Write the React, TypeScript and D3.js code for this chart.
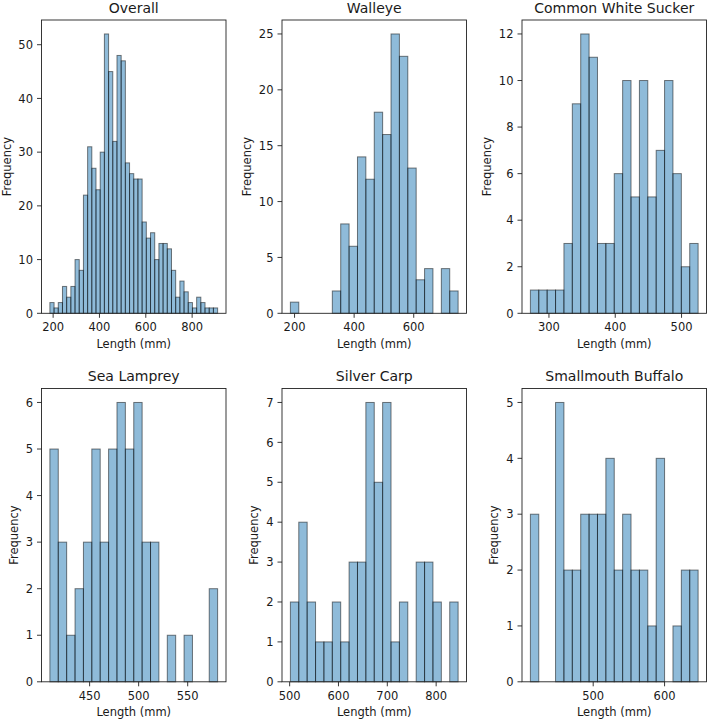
import React from "react";
import * as d3 from "d3";

const titles = ["Overall", "Walleye", "Common White Sucker", "Sea Lamprey", "Silver Carp", "Smallmouth Buffalo"];

const overallCounts = [2, 1, 2, 5, 3, 5, 10, 8, 22, 31, 27, 23, 30, 52, 45, 32, 48, 47, 28, 26, 25, 25, 17, 14, 15, 10, 13, 13, 12, 8, 3, 6, 4, 2, 1, 3, 2, 1, 1, 1];
const walleyeCounts = [1, 0, 0, 0, 0, 2, 8, 6, 14, 12, 18, 16, 25, 23, 13, 3, 4, 0, 4, 2];
const suckerCounts = [1, 1, 1, 1, 3, 9, 12, 11, 3, 3, 6, 10, 5, 10, 5, 7, 10, 6, 2, 3];
const lampreyCounts = [5, 3, 1, 2, 3, 5, 3, 5, 6, 5, 6, 3, 3, 0, 1, 0, 1, 0, 0, 2];
const carpCounts = [2, 4, 2, 1, 1, 2, 1, 3, 3, 7, 5, 7, 1, 2, 0, 3, 3, 2, 0, 2];
const buffaloCounts = [3, 0, 0, 5, 2, 2, 3, 3, 3, 4, 2, 3, 2, 2, 1, 4, 0, 1, 2, 2];

// data min / max lengths (mm)
const overallRange = [186, 910];
const walleyeRange = [186, 749];
const suckerRange = [272, 525];
const lampreyRange = [409.5, 580.5];
const carpRange = [501.5, 845];
const buffaloRange = [412, 647];

const overallXTicks = [200, 400, 600, 800];
const walleyeXTicks = [200, 400, 600];
const suckerXTicks = [300, 400, 500];
const lampreyXTicks = [450, 500, 550];
const carpXTicks = [500, 600, 700, 800];
const buffaloXTicks = [500, 600];

const overallYTicks = [0, 10, 20, 30, 40, 50];
const walleyeYTicks = [0, 5, 10, 15, 20, 25];
const suckerYTicks = [0, 2, 4, 6, 8, 10, 12];
const lampreyYTicks = [0, 1, 2, 3, 4, 5, 6];
const carpYTicks = [0, 1, 2, 3, 4, 5, 6, 7];
const buffaloYTicks = [0, 1, 2, 3, 4, 5];

const panels = [
  { title: titles[0], counts: overallCounts, range: overallRange, xt: overallXTicks, yt: overallYTicks },
  { title: titles[1], counts: walleyeCounts, range: walleyeRange, xt: walleyeXTicks, yt: walleyeYTicks },
  { title: titles[2], counts: suckerCounts, range: suckerRange, xt: suckerXTicks, yt: suckerYTicks },
  { title: titles[3], counts: lampreyCounts, range: lampreyRange, xt: lampreyXTicks, yt: lampreyYTicks },
  { title: titles[4], counts: carpCounts, range: carpRange, xt: carpXTicks, yt: carpYTicks },
  { title: titles[5], counts: buffaloCounts, range: buffaloRange, xt: buffaloXTicks, yt: buffaloYTicks },
];

const W = 709;
const H = 720;
const colLefts = [41.5, 282, 522];
const rowTops = [20, 388.5];
const PW = 184.5;
const PH = 293.3;
const FONT = "DejaVu Sans, sans-serif";
const FS = 11.5;
const TEXT = "#1a1a1a";

function Panel({ p, left, top }) {
  const [a, b] = p.range;
  const span = b - a;
  const x = d3.scaleLinear().domain([a - 0.05 * span, b + 0.05 * span]).range([left, left + PW]);
  const ymax = d3.max(p.counts) * 1.05;
  const y = d3.scaleLinear().domain([0, ymax]).range([top + PH, top]);
  const n = p.counts.length;
  const edges = d3.range(n + 1).map((i) => a + (span * i) / n);
  const maxDigits = d3.max(p.yt.map((t) => String(t).length));
  const tickLabelW = maxDigits * 0.636 * FS;
  const ylabX = left - tickLabelW - 16.3;
  const bottom = top + PH;
  return (
    <g>
      {p.counts.map((c, i) =>
        c > 0 ? (
          <rect
            key={i}
            x={x(edges[i])}
            y={y(c)}
            width={x(edges[i + 1]) - x(edges[i])}
            height={y(0) - y(c)}
            fill="#1f77b4"
            fillOpacity={0.5}
            stroke="#000"
            strokeOpacity={0.5}
            strokeWidth={1}
          />
        ) : null
      )}
      <rect x={left} y={top} width={PW} height={PH} fill="none" stroke="#222" strokeWidth={0.9} />
      {p.xt.map((t) => (
        <g key={"x" + t}>
          <line x1={x(t)} x2={x(t)} y1={bottom} y2={bottom + 4.5} stroke="#222" strokeWidth={0.9} />
          <text x={x(t)} y={bottom + 18} textAnchor="middle" fontSize={FS} fontFamily={FONT} fill={TEXT}>
            {t}
          </text>
        </g>
      ))}
      {p.yt.map((t) => (
        <g key={"y" + t}>
          <line x1={left - 4.5} x2={left} y1={y(t)} y2={y(t)} stroke="#222" strokeWidth={0.9} />
          <text x={left - 8.5} y={y(t) + 4.2} textAnchor="end" fontSize={FS} fontFamily={FONT} fill={TEXT}>
            {t}
          </text>
        </g>
      ))}
      <text x={left + PW / 2} y={top - 7.5} textAnchor="middle" fontSize={14} fontFamily={FONT} fill={TEXT}>
        {p.title}
      </text>
      <text x={left + PW / 2} y={bottom + 34.5} textAnchor="middle" fontSize={FS} fontFamily={FONT} fill={TEXT}>
        Length (mm)
      </text>
      <text
        transform={`translate(${ylabX},${top + PH / 2}) rotate(-90)`}
        textAnchor="middle"
        fontSize={FS}
        fontFamily={FONT}
        fill={TEXT}
      >
        Frequency
      </text>
    </g>
  );
}

export default function App() {
  return (
    <svg width={W} height={H} style={{ position: "absolute", left: 0, top: 0, background: "#fff" }}>
      <rect x={0} y={0} width={W} height={H} fill="#fff" />
      {panels.map((p, i) => (
        <Panel key={i} p={p} left={colLefts[i % 3]} top={rowTops[Math.floor(i / 3)]} />
      ))}
    </svg>
  );
}
